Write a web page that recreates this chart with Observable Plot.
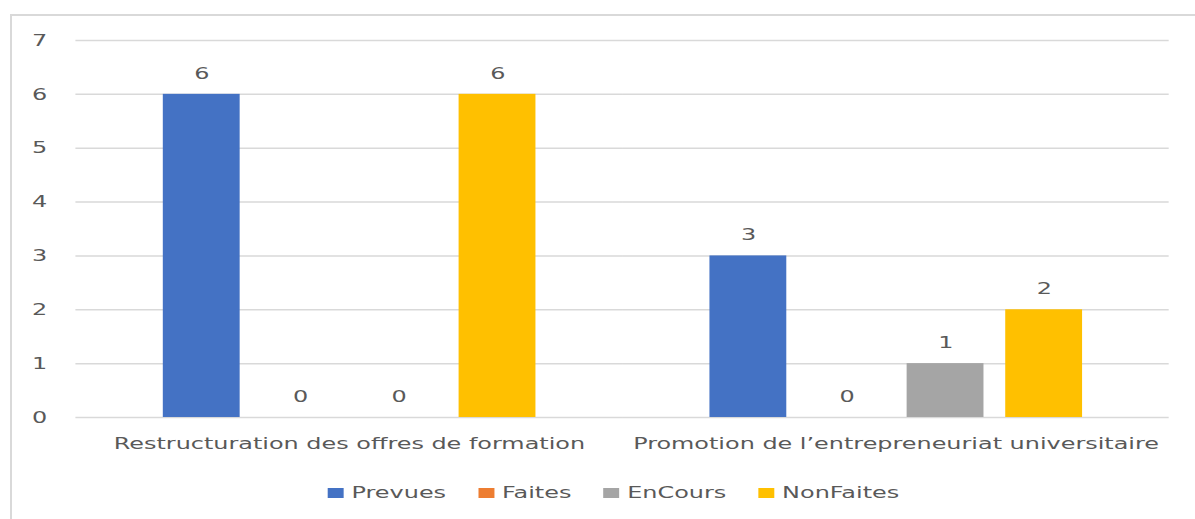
<!DOCTYPE html>
<html>
<head>
<meta charset="utf-8">
<script src="https://cdn.jsdelivr.net/npm/d3@7"></script>
<script src="https://cdn.jsdelivr.net/npm/@observablehq/plot@0.6"></script>
<style>
  html, body { margin: 0; padding: 0; background: #fff; overflow: hidden; }
  body { width: 1195px; height: 519px; position: relative; font-family: "DejaVu Sans", sans-serif; }
  #frame { position: absolute; left: 10px; top: 14px; width: 1200px; height: 520px; border: 2px solid #d9d9d9; box-sizing: border-box; z-index: 2; background: transparent; pointer-events: none; }
  #chart { position: absolute; left: 0; top: 0; transform-origin: 0 0; z-index: 1; }
  #legend { display: flex; justify-content: center; align-items: center; margin-top: 23px; height: 20px; font-size: 16.5px; color: #595959; }
  .item { display: flex; align-items: center; margin: 0 11px; }
  .sw { width: 11px; height: 10px; margin-right: 5.5px; }
</style>
</head>
<body>
<div id="chart"></div>
<div id="frame"></div>
<script>
const groups = ["Restructuration des offres de formation", "Promotion de l’entrepreneuriat universitaire"];
const series = ["Prevues", "Faites", "EnCours", "NonFaites"];
const prevues = [6, 3];
const faites = [0, 0];
const enCours = [0, 1];
const nonFaites = [6, 2];
const colors = ["#4472C4", "#ED7D31", "#A5A5A5", "#FFC000"];
const yTicks = [0, 1, 2, 3, 4, 5, 6, 7];

const K = 1.45; // horizontal stretch of the reference
const W = 1195 / K;

const valuesBySeries = [prevues, faites, enCours, nonFaites];
const data = [];
groups.forEach((g, gi) => {
  series.forEach((s, si) => {
    data.push({group: g, series: s, value: valuesBySeries[si][gi]});
  });
});

const textColor = "#595959";
const plot = Plot.plot({
  width: W,
  height: 460,
  marginLeft: 75 / K,
  marginRight: W - 1170 / K,
  marginTop: 40,
  marginBottom: 43,
  style: {fontFamily: "DejaVu Sans, sans-serif", fontSize: "16.5px", color: textColor, background: "transparent"},
  fx: {domain: groups, padding: 0, label: null},
  x: {domain: series, paddingInner: 0.215, paddingOuter: 0.864, axis: null},
  y: {domain: [0, 7], axis: null},
  color: {domain: series, range: colors},
  marks: [
    Plot.gridY(yTicks, {stroke: "#d9d9d9", strokeOpacity: 1, strokeWidth: 1.5}),
    Plot.axisY(yTicks, {tickSize: 0, tickPadding: 20, tickFormat: d => String(d), fill: textColor, fontSize: 16.5, label: null}),
    Plot.axisFx({anchor: "bottom", tickSize: 0, tickPadding: 20, fill: textColor, fontSize: 16.5, label: null}),
    Plot.barY(data, {fx: "group", x: "series", y: "value", fill: "series"}),
    Plot.text(data, {fx: "group", x: "series", y: "value", text: d => String(d.value), dy: -21, fill: textColor, fontSize: 16.5})
  ]
});

const chart = document.getElementById("chart");
chart.style.width = W + "px";
chart.style.transform = `scaleX(${K})`;
chart.appendChild(plot);

const legend = document.createElement("div");
legend.id = "legend";
legend.style.width = W + "px";
legend.style.paddingLeft = "22px";
legend.style.boxSizing = "border-box";
series.forEach((s, i) => {
  const item = document.createElement("div");
  item.className = "item";
  const sw = document.createElement("span");
  sw.className = "sw";
  sw.style.background = colors[i];
  const label = document.createElement("span");
  label.textContent = s;
  item.appendChild(sw);
  item.appendChild(label);
  legend.appendChild(item);
});
chart.appendChild(legend);
</script>
</body>
</html>
